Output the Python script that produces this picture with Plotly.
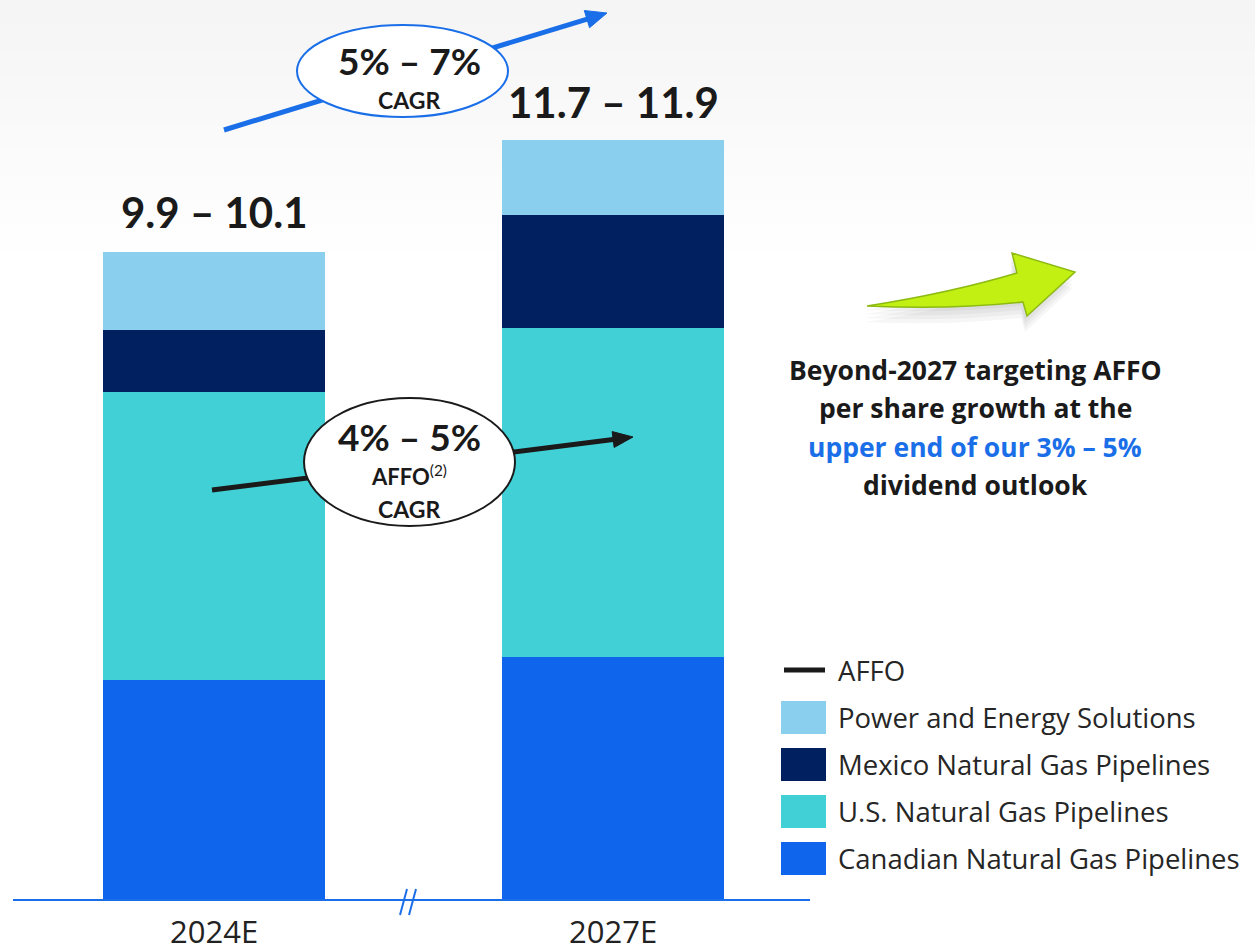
import math
import plotly.graph_objects as go

W, H = 1255, 952

# ---------------- data ----------------
categories = ["2024E", "2027E"]
total_labels = ["9.9 – 10.1", "11.7 – 11.9"]
segments = ["Canadian Natural Gas Pipelines", "U.S. Natural Gas Pipelines",
            "Mexico Natural Gas Pipelines", "Power and Energy Solutions"]
canadian = [3.40, 3.75]
us = [4.44, 5.08]
mexico = [0.96, 1.74]
power = [1.20, 1.16]
seg_colors = ["#0F65EB", "#41D0D6", "#002060", "#8BCFEF"]
series = [canadian, us, mexico, power]

# ---------------- helpers (pixel -> paper) ----------------
def px(x):
    return x / W

def py(y):
    return 1 - y / H

def P(x, y):
    return "%.5f,%.5f" % (px(x), py(y))

FONT = "Lato"
DARK = "#1a1a1a"
BLUE = "#1A6FE8"

xpos = [0, 1]
fig = go.Figure()
for name, vals, col in zip(segments, series, seg_colors):
    fig.add_trace(go.Bar(x=xpos, y=vals, name=name, marker=dict(color=col, line=dict(width=0)),
                         width=0.556, showlegend=False, hoverinfo="name+y"))

totals = [sum(v) for v in zip(*series)]

shapes = []
annotations = []

def note(x, y, text, size, family=FONT, color=DARK, xanchor="center", xref="paper", yref="paper", **kw):
    annotations.append(dict(x=x, y=y, xref=xref, yref=yref, text=text, showarrow=False,
                            xanchor=xanchor, yanchor="middle",
                            font=dict(family=family, size=size, color=color), **kw))

def arrow(tail, tip, color, width=5, head_len=21, head_half=9):
    dx, dy = tip[0] - tail[0], tip[1] - tail[1]
    L = math.hypot(dx, dy)
    ux, uy = dx / L, dy / L
    nx, ny = -uy, ux
    bx, by = tip[0] - head_len * ux, tip[1] - head_len * uy
    shapes.append(dict(type="line", xref="paper", yref="paper", x0=px(tail[0]), y0=py(tail[1]),
                       x1=px(bx + 2 * ux), y1=py(by + 2 * uy), line=dict(color=color, width=width), layer="above"))
    path = ("M " + P(tip[0], tip[1]) + " L " + P(bx + head_half * nx, by + head_half * ny) +
            " L " + P(bx - head_half * nx, by - head_half * ny) + " Z")
    shapes.append(dict(type="path", xref="paper", yref="paper", path=path, fillcolor=color,
                       line=dict(color=color, width=1), layer="above"))

# soft grey background haze at top
for k in range(1, 11):
    shapes.append(dict(type="rect", xref="paper", yref="paper", x0=0, x1=1, y0=py(25 * k), y1=1,
                       fillcolor="rgba(0,0,0,0.0055)", line=dict(width=0), layer="below"))

# baseline
shapes.append(dict(type="line", xref="paper", yref="y", x0=px(13), x1=px(810), y0=0, y1=0,
                   line=dict(color=BLUE, width=2), layer="above"))
# break marks //
for dx in (0, 9):
    shapes.append(dict(type="line", xref="paper", yref="paper",
                       x0=px(400 + dx), y0=py(915), x1=px(407 + dx), y1=py(889),
                       line=dict(color=BLUE, width=2), layer="above"))

# category labels
for xv, lab in zip(xpos, categories):
    note(xv, py(931), lab, 31, family="Open Sans", color="#222222", xref="x")
# total labels
for xv, t, lab, sh in zip(xpos, totals, total_labels, [40, 38]):
    note(xv, t, "<b>%s</b>" % lab, 42, xref="x", yref="y", yshift=sh)

# ---- top blue CAGR arrow ----
arrow((224, 130), (607, 13), BLUE, head_len=21, head_half=9)
shapes.append(dict(type="circle", xref="paper", yref="paper", x0=px(297), x1=px(508), y0=py(25), y1=py(117),
                   fillcolor="white", line=dict(color=BLUE, width=2), layer="above"))
note(px(409), py(60), "<b>5% – 7%</b>", 37)
note(px(409), py(100), "<b>CAGR</b>", 23)

# ---- AFFO arrow ----
arrow((212, 490), (633, 437), DARK, head_len=20, head_half=8)
shapes.append(dict(type="circle", xref="paper", yref="paper", x0=px(304), x1=px(515), y0=py(398), y1=py(526),
                   fillcolor="white", line=dict(color=DARK, width=2), layer="above"))
note(px(409), py(437), "<b>4% – 5%</b>", 37)
note(px(409), py(475), "<b>AFFO</b><sup>(2)</sup>", 22)
note(px(409), py(509), "<b>CAGR</b>", 23)

# ---- green curved arrow ----
def arrow_path(dx, dy):
    return ("M " + P(867 + dx, 306 + dy) + " Q " + P(950 + dx, 293 + dy) + " " + P(1017 + dx, 273 + dy) +
            " L " + P(1012 + dx, 253 + dy) + " L " + P(1075 + dx, 272 + dy) + " L " + P(1027 + dx, 316 + dy) +
            " L " + P(1023 + dx, 302 + dy) + " Q " + P(950 + dx, 310 + dy) + " " + P(867 + dx, 306 + dy) + " Z")

for off in (4, 8, 12, 16):
    shapes.append(dict(type="path", xref="paper", yref="paper", path=arrow_path(-2, off),
                       fillcolor="rgba(0,0,0,0.035)", line=dict(width=0), layer="above"))
shapes.append(dict(type="path", xref="paper", yref="paper", path=arrow_path(0, 0),
                   fillcolor="#C2F013", line=dict(color="#8DBA12", width=1.5), layer="above"))

# ---- right text ----
right_lines = ["Beyond-2027 targeting AFFO", "per share growth at the",
               "upper end of our 3% – 5%", "dividend outlook"]
right_colors = [DARK, DARK, BLUE, DARK]
for txt, col, yy in zip(right_lines, right_colors, [370, 408, 447, 485]):
    note(px(975), py(yy), "<b>%s</b>" % txt, 26.5, family="Open Sans", color=col)

# ---- custom legend ----
legend_names = ["AFFO"] + segments[::-1]
legend_colors = [None] + seg_colors[::-1]
leg_y = [670, 717, 764, 811, 858]
for name, col, yy in zip(legend_names, legend_colors, leg_y):
    if col is None:
        shapes.append(dict(type="line", xref="paper", yref="paper", x0=px(784), x1=px(825), y0=py(yy), y1=py(yy),
                           line=dict(color=DARK, width=5), layer="above"))
    else:
        shapes.append(dict(type="rect", xref="paper", yref="paper", x0=px(781), x1=px(826),
                           y0=py(yy - 16), y1=py(yy + 17), fillcolor=col, line=dict(width=0), layer="above"))
    note(px(836), py(yy), name, 27.5, family="Open Sans", color="#262626", xanchor="left")

y_top = 900 / 64.8
y_bot = -52 / 64.8
x_left = -214 / 399
x_right = (W - 214) / 399

fig.update_layout(
    width=W, height=H, margin=dict(l=0, r=0, t=0, b=0),
    paper_bgcolor="white", plot_bgcolor="rgba(0,0,0,0)",
    barmode="stack",
    xaxis=dict(range=[x_left, x_right], visible=False, fixedrange=True),
    yaxis=dict(range=[y_bot, y_top], visible=False, fixedrange=True),
    shapes=shapes, annotations=annotations, showlegend=False,
)

fig.write_html("out.html", config={"displayModeBar": False},
               post_script="document.body.style.margin='0';document.body.style.overflow='hidden';")
